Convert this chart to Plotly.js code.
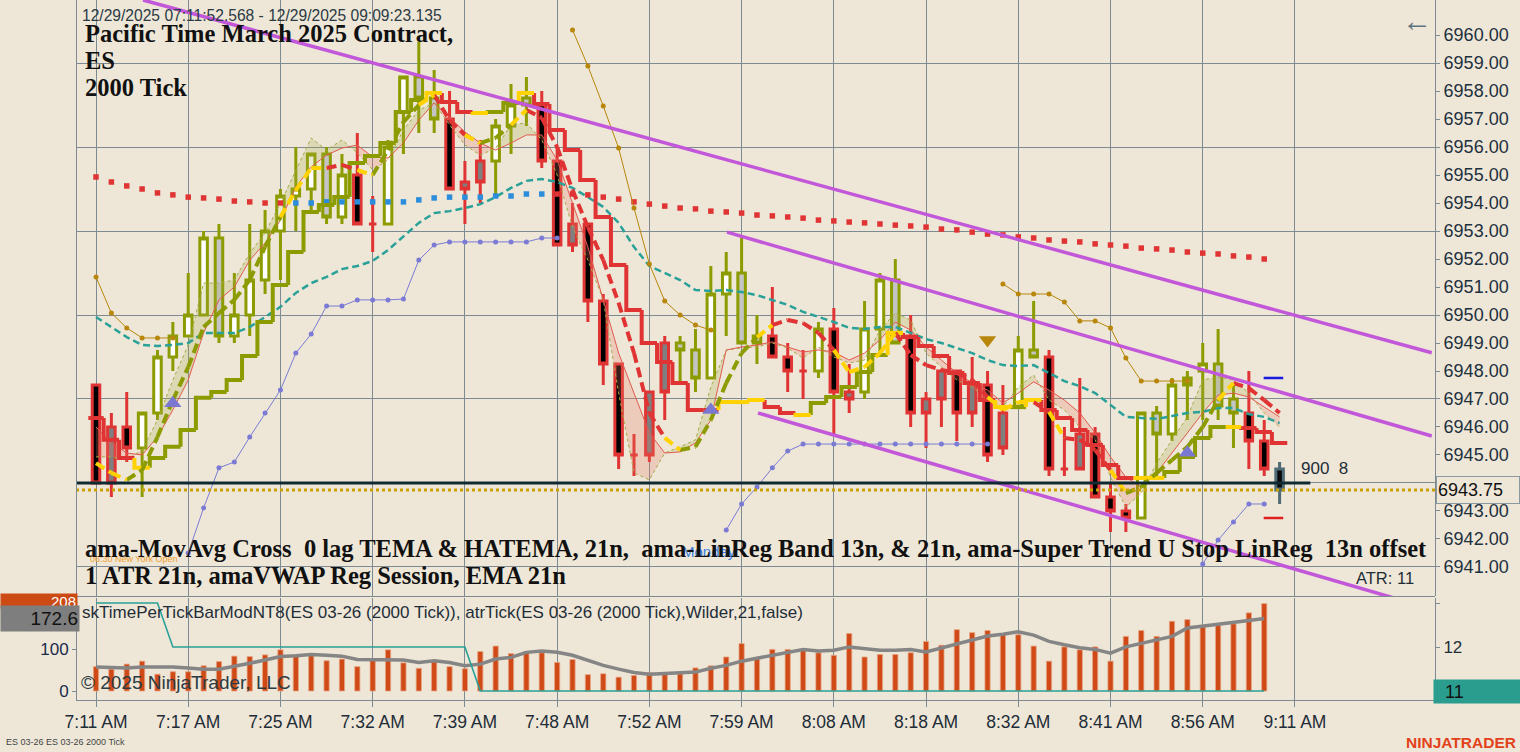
<!DOCTYPE html>
<html><head><meta charset="utf-8">
<script src="https://cdn.plot.ly/plotly-3.0.1.min.js"></script>
<style>html,body{margin:0;padding:0;background:#EEE7D7;}#chart{width:1520px;height:752px;}</style>
</head><body><div id="chart"></div>
<script>
// ---------------- DATA ----------------
const tickIdx = [0,6,12,18,24,30,36,42,48,54,60,66,72,78];
const tickLbl = ['7:11 AM','7:17 AM','7:25 AM','7:32 AM','7:39 AM','7:48 AM','7:52 AM','7:59 AM','8:08 AM','8:18 AM','8:32 AM','8:41 AM','8:56 AM','9:11 AM'];
const priceTicks = [6941,6942,6943,6944,6945,6946,6947,6948,6949,6950,6951,6952,6953,6954,6955,6956,6957,6958,6959,6960];

const openP = [6947.5,6946.0,6946.0,6945.25,6946.5,6948.5,6949.25,6950.0,6952.75,6949.25,
 6950.0,6951.25,6953.0,6954.25,6954.5,6955.75,6953.5,6955.0,6953.25,6953.25,
 6957.25,6958.5,6957.75,6957.0,6954.75,6955.5,6955.5,6956.75,6957.75,6957.5,
 6955.5,6953.25,6953.25,6950.5,6948.25,6945.0,6947.25,6949.0,6949.0,6948.75,
 6947.75,6950.75,6951.5,6949.25,6949.25,6948.5,6948.0,6948.0,6949.5,6947.25,
 6947.25,6949.5,6951.25,6949.25,6947.0,6948.0,6948.0,6947.5,6947.5,6946.5,
 6946.75,6948.75,6948.5,6944.5,6945.75,6945.75,6943.5,6943.0,6942.75,6946.5,
 6945.75,6947.75,6948.0,6948.25,6947.0,6946.5,6945.5,6944.5];
const highP = [6947.5,6946.5,6947.25,6946.5,6948.75,6949.75,6951.5,6953.0,6953.25,6951.5,
 6953.25,6953.75,6954.5,6956.0,6955.75,6956.0,6955.75,6956.5,6954.25,6956.25,
 6958.5,6959.75,6958.75,6958.0,6955.5,6956.25,6957.0,6958.25,6958.5,6958.0,
 6956.0,6954.0,6953.25,6950.75,6948.25,6945.75,6947.25,6949.25,6949.25,6949.5,
 6951.75,6952.25,6952.75,6950.0,6951.0,6949.0,6948.75,6949.75,6950.25,6948.25,
 6950.5,6951.5,6952.0,6950.0,6947.25,6948.0,6948.0,6948.5,6948.0,6947.5,
 6949.25,6950.5,6948.75,6946.0,6947.75,6946.0,6944.0,6943.25,6946.5,6946.75,
 6947.75,6948.0,6949.0,6949.5,6947.5,6948.0,6946.25,6944.75];
const lowP = [6944.0,6943.5,6944.75,6943.5,6946.25,6948.0,6949.25,6950.0,6949.0,6949.0,
 6949.25,6950.75,6951.25,6953.0,6953.75,6953.25,6953.25,6953.25,6952.25,6953.25,
 6955.75,6956.5,6956.5,6954.5,6953.25,6954.0,6954.25,6955.75,6956.75,6955.25,
 6952.5,6952.25,6949.75,6947.5,6944.5,6944.25,6944.75,6946.25,6947.5,6947.25,
 6947.75,6949.25,6949.0,6948.25,6948.5,6947.25,6947.0,6947.75,6945.75,6946.5,
 6947.0,6948.5,6949.0,6946.0,6945.25,6946.0,6945.5,6946.0,6944.75,6945.0,
 6946.75,6948.5,6944.25,6944.25,6944.5,6943.5,6942.25,6942.25,6942.75,6944.25,
 6945.5,6946.25,6946.25,6946.25,6945.25,6944.5,6944.25,6943.25];
const closeP = [6944.0,6944.0,6945.25,6946.5,6948.5,6949.25,6950.0,6952.75,6949.25,6950.0,
 6951.25,6953.0,6954.25,6954.5,6955.75,6953.5,6955.0,6953.25,6953.25,6956.0,
 6958.5,6957.75,6957.0,6954.5,6954.5,6954.75,6956.75,6957.5,6957.5,6955.5,
 6952.5,6952.5,6950.5,6948.25,6945.0,6945.0,6945.0,6947.25,6948.75,6947.75,
 6950.75,6951.5,6949.0,6949.0,6948.5,6948.0,6948.0,6949.5,6947.25,6947.0,
 6949.5,6951.25,6949.0,6946.5,6946.5,6947.0,6946.5,6946.5,6945.0,6945.25,
 6948.75,6948.5,6944.5,6944.5,6944.5,6943.5,6943.0,6942.75,6946.5,6945.75,
 6947.5,6947.5,6948.25,6946.75,6946.5,6945.5,6944.5,6943.75];
// candle paint class: OW olive/white, OS olive/silver, RB red/black, RG red/gray, CB current bar
const barClass = ['RB','RG','RB','OW','OW','OW','OW','OW','OS','OW',
 'OW','OW','OW','OW','OW','OS','OW','RB','RB','OW',
 'OW','OS','OS','RB','RG','RG','OW','OW','OS','RB',
 'RB','RG','RB','RB','RB','RB','RG','RG','OS','OS',
 'OW','OW','OS','OS','RB','RB','RB','OW','RB','RG',
 'OW','OW','OS','RB','RG','RG','RB','RG','RB','RG',
 'OW','OS','RB','RB','RG','RB','RB','RB','OW','OS',
 'OW','OS','OW','OS','OS','RB','RB','CB'];

const stopVal = [6946.32,6945.54,6944.89,6944.54,6944.89,6945.29,6945.89,6947.04,6947.25,6947.68,
 6948.54,6949.75,6951.07,6952.25,6953.68,6953.93,6954.21,6955.43,6955.68,6956.14,
 6957.25,6957.68,6957.93,6957.61,6957.25,6957.21,6957.25,6957.57,6957.93,6957.54,
 6956.61,6955.89,6954.82,6953.50,6951.79,6950.18,6949.00,6948.32,6947.57,6946.61,
 6946.61,6946.89,6946.89,6946.96,6946.71,6946.50,6946.43,6946.86,6947.07,6947.43,
 6947.96,6948.57,6949.36,6949.21,6948.89,6948.54,6947.93,6947.57,6946.96,6946.71,
 6946.71,6946.96,6946.61,6946.32,6945.89,6945.36,6944.64,6944.18,6944.18,6944.18,
 6944.39,6944.93,6945.61,6946.00,6946.00,6945.96,6945.82,6945.43];
const stopState = [-1,-1,-1,0,1,1,1,1,1,1,
 1,1,1,1,1,1,1,1,1,1,
 1,1,0,-1,-1,0,1,1,0,-1,
 -1,-1,-1,-1,-1,-1,-1,-1,-1,-1,
 -1,0,0,0,-1,-1,0,1,1,1,
 1,1,0,-1,-1,-1,-1,-1,-1,0,
 1,0,-1,-1,-1,-1,-1,-1,0,0,
 1,1,1,1,0,-1,-1,-1];

const temaVal = [6944.71,6944.36,6944.11,6944.46,6945.64,6946.96,6948.14,6949.57,6950.07,6950.54,
 6951.25,6952.43,6953.50,6954.46,6955.25,6955.25,6955.36,6955.18,6955.00,6955.89,
 6956.89,6957.50,6957.86,6956.96,6956.43,6956.14,6956.32,6956.79,6957.32,6957.04,
 6956.00,6954.46,6953.14,6951.96,6950.43,6948.64,6946.50,6945.61,6945.18,6945.29,
 6946.25,6947.57,6948.64,6949.21,6949.64,6949.82,6949.71,6949.36,6948.75,6947.96,
 6948.14,6948.64,6949.36,6948.57,6948.21,6948.04,6947.93,6947.68,6947.07,6946.61,
 6946.89,6946.89,6946.54,6945.61,6945.54,6945.18,6944.46,6943.64,6943.86,6944.36,
 6944.82,6945.29,6946.00,6946.96,6947.57,6947.39,6946.96,6946.50];
const temaState = [-1,0,0,1,1,1,1,1,1,1,
 1,1,1,0,0,0,-1,-1,0,1,
 1,1,0,-1,-1,0,1,1,0,-1,
 -1,-1,-1,-1,-1,-1,-1,-1,0,1,
 1,1,1,1,0,-1,-1,-1,-1,0,
 0,0,0,-1,-1,-1,-1,-1,-1,0,
 0,0,-1,0,-1,-1,-1,0,1,1,
 1,1,1,1,0,-1,-1,-1];

const emaVal = [6949.93,6949.57,6949.21,6948.93,6948.89,6948.93,6949.00,6949.36,6949.36,6949.36,
 6949.57,6949.93,6950.29,6950.79,6951.14,6951.36,6951.64,6951.75,6951.93,6952.32,
 6952.79,6953.29,6953.64,6953.71,6953.82,6953.96,6954.21,6954.54,6954.79,6954.86,
 6954.75,6954.54,6954.21,6953.86,6953.29,6952.43,6951.75,6951.50,6951.25,6950.89,
 6950.86,6950.89,6950.82,6950.71,6950.54,6950.36,6950.11,6949.93,6949.75,6949.54,
 6949.50,6949.57,6949.57,6949.36,6949.14,6949.00,6948.82,6948.64,6948.39,6948.21,
 6948.18,6948.21,6947.93,6947.64,6947.46,6947.21,6946.79,6946.36,6946.32,6946.29,
 6946.39,6946.50,6946.54,6946.68,6946.68,6946.46,6946.36,6946.14];

const vwapVal = [6954.93,6954.75,6954.61,6954.50,6954.36,6954.29,6954.21,6954.18,6954.14,6954.07,
 6954.04,6954.00,6954.00,6954.00,6954.00,6954.04,6954.04,6954.04,6954.04,6954.04,
 6954.04,6954.11,6954.18,6954.21,6954.21,6954.21,6954.25,6954.25,6954.32,6954.32,
 6954.32,6954.32,6954.29,6954.21,6954.14,6954.04,6953.96,6953.89,6953.82,6953.79,
 6953.71,6953.68,6953.64,6953.57,6953.54,6953.50,6953.46,6953.39,6953.36,6953.32,
 6953.29,6953.25,6953.21,6953.18,6953.14,6953.07,6953.04,6952.96,6952.89,6952.86,
 6952.79,6952.75,6952.68,6952.64,6952.61,6952.54,6952.50,6952.46,6952.39,6952.36,
 6952.32,6952.25,6952.21,6952.18,6952.11,6952.07,6952.00,null];
const vwapSide = [-1,-1,-1,-1,-1,-1,-1,-1,-1,-1,
 -1,-1,-1,1,1,1,1,1,1,1,
 1,1,1,1,1,1,1,1,1,1,
 -1,-1,-1,-1,-1,-1,-1,-1,-1,-1,
 -1,-1,-1,-1,-1,-1,-1,-1,-1,-1,
 -1,-1,-1,-1,-1,-1,-1,-1,-1,-1,
 -1,-1,-1,-1,-1,-1,-1,-1,-1,-1,
 -1,-1,-1,-1,-1,-1,-1,-1];

const bandRed = [6946.00,6945.43,6945.07,6945.00,6945.64,6946.61,6947.68,6949.36,6950.54,6951.00,
 6951.96,6952.57,6953.39,6954.57,6955.29,6955.71,6955.96,6956.07,6955.64,6955.61,
 6956.14,6956.96,6957.57,6957.07,6956.54,6956.14,6955.89,6956.14,6956.43,6956.43,
 6955.54,6954.00,6952.43,6950.54,6948.64,6947.21,6945.79,6945.07,6945.11,6945.43,
 6946.25,6948.75,6948.86,6948.93,6949.04,6948.86,6948.68,6948.75,6948.68,6948.39,
 6948.64,6949.11,6949.75,6949.46,6948.86,6948.39,6947.93,6947.57,6947.32,6946.86,
 6947.21,6947.61,6947.32,6946.96,6946.50,6945.79,6944.93,6944.21,6943.86,6944.36,
 6945.07,6945.79,6946.50,6947.14,6947.21,6947.07,6946.71,6946.36];
const bandOlive = [6944.93,6944.93,6944.82,6945.18,6946.25,6947.68,6948.93,6951.14,6951.14,6951.25,
 6952.21,6952.93,6954.00,6955.18,6956.32,6955.89,6956.25,6955.79,6955.18,6955.54,
 6956.61,6957.32,6957.57,6956.79,6956.07,6955.71,6955.96,6956.79,6956.86,6956.25,
 6955.00,6953.14,6951.96,6950.54,6947.21,6944.36,6944.11,6945.07,6945.29,6945.54,
 6947.43,6948.75,6948.82,6948.86,6949.00,6948.82,6948.46,6948.86,6948.50,6948.29,
 6948.39,6949.46,6950.07,6949.82,6948.64,6948.14,6947.68,6947.43,6946.96,6946.71,
 6947.43,6947.86,6946.96,6946.61,6946.00,6945.54,6944.21,6943.14,6943.64,6944.71,
 6945.54,6946.36,6947.68,6947.79,6947.68,6947.21,6946.50,6946.00];

const lowerBand = [null,null,null,null,null,null,6941.50,6943.11,6944.54,6944.75,
 6945.64,6946.50,6947.32,6948.64,6949.32,6950.32,6950.32,6950.54,6950.54,6950.54,
 6950.57,6951.96,6952.50,6952.61,6952.61,6952.61,6952.61,6952.61,6952.61,6952.75,
 6952.75,null,null,null,null,null,null,null,null,null,
 null,6942.32,6943.25,6943.86,6944.54,6945.14,6945.39,6945.39,6945.39,6945.39,
 6945.39,6945.39,6945.39,6945.39,6945.39,6945.39,6945.39,6945.39,6945.39,null,
 null,null,null,null,null,null,null,null,null,null,
 null,null,6941.11,6941.96,6942.61,6943.25,6943.25,null];
const upperBand = [6951.36,6950.07,6949.54,6949.18,6949.18,6949.18,null,null,null,null,
 null,null,null,null,null,null,null,null,null,null,
 null,null,null,null,null,null,null,null,null,null,
 null,6960.18,6958.89,6957.46,6955.96,6953.82,6951.82,6950.50,6950.00,6949.64,
 6949.46,null,null,null,null,null,null,null,null,null,
 null,null,null,null,null,null,null,null,null,6951.11,
 6950.75,6950.75,6950.75,6950.46,6949.79,6949.79,6949.54,6948.46,6947.64,6947.64,
 6947.64,6947.64,null,null,null,null,null,null];

const triUpIdx = [5,40,71];
const triUpPrice = [6946.85,6946.61,6945.08];
const triDnIdx = [58];
const triDnPrice = [6949.11];
const projIdx = [76.6,76.6];
const projPrice = [6947.75,6942.75];

const chanUpperX = [3.06,86.9], chanUpperY = [6961.25,6948.65];
const chanMidX = [41.05,86.9], chanMidY = [6952.96,6945.68];
const chanLowX = [43.07,86.9], chanLowY = [6946.50,6939.50];
const hLinePrice = 6944.0, hLineX = [-1.3,79.0];
const lastPrice = 6943.75;

const tpt = [58,52,64,71,40,46,46,60,70,83, 82,86,98,86,88,72,76,58,74,98,
 67,54,70,58,53,94,107,89,94,91, 68,75,39,41,33,37,44,44,41,55,
 60,81,113,77,99,99,97,91,85,137, 81,87,87,91,118,109,146,139,144,135,
 134,107,71,105,98,105,71,130,144,130, 166,170,152,156,160,186,208,null];
const tptAvg = [57,56,55,57,58,57,55,52,52,58, 66,74,82,84,87,85,83,75,74,74,
 74,68,72,68,60,64,76,80,92,95, 92,85,73,61,52,44,40,42,42,45,
 54,61,71,78,85,94,99,95,97,105, 102,97,97,99,93,102,113,122,131,135,
 141,133,118,110,103,99,90,105,113,121, 130,150,154,158,163,168,172.6,null];
const atrTick = [13,13,13,13,13,12,12,12,12,12, 12,12,12,12,12,12,12,12,12,12,
 12,12,12,12,12,11,11,11,11,11, 11,11,11,11,11,11,11,11,11,11,
 11,11,11,11,11,11,11,11,11,11, 11,11,11,11,11,11,11,11,11,11,
 11,11,11,11,11,11,11,11,11,11, 11,11,11,11,11,11,11,null];

// ---------------- STYLE ----------------
const SANS = 'Liberation Sans, Arial, sans-serif';
const SERIF = 'Liberation Serif, Times New Roman, serif';
const BG = '#EEE7D7';
const GRID = '#7d8a92';
const OLIVE = '#8c9b00', RED = '#e03434', YEL = '#ffd200';
const N = openP.length;
const xi = openP.map((_, i) => i);

const traces = [];

// LinReg band fill
function bandPoly(up) {
  const xs = [], ys = [];
  for (let i = 1; i < N; i++) {
    const a0 = bandRed[i-1], a1 = bandRed[i], b0 = bandOlive[i-1], b1 = bandOlive[i];
    const isUp = (b0 + b1) >= (a0 + a1);
    if (isUp !== up) continue;
    xs.push(i-1, i, i, i-1, i-1, null); ys.push(a0, a1, b1, b0, a0, null);
  }
  return {x: xs, y: ys};
}
[[true,'rgba(165,170,70,0.25)'],[false,'rgba(232,120,100,0.25)']].forEach(([up,c]) => {
  const p = bandPoly(up);
  traces.push({type:'scatter', mode:'lines', x:p.x, y:p.y, fill:'toself', fillcolor:c, line:{width:0}, hoverinfo:'skip'});
});
traces.push({type:'scatter', mode:'lines', x:xi, y:bandOlive, line:{color:'#a3aa45', width:1, dash:'dot'}, hoverinfo:'skip'});
traces.push({type:'scatter', mode:'lines', x:xi, y:bandRed, line:{color:'#e25a50', width:1}, hoverinfo:'skip'});

// EMA teal dashed
traces.push({type:'scatter', mode:'lines', x:xi, y:emaVal, line:{color:'#2aa198', width:2.5, dash:'7px,4px'}, hoverinfo:'skip'});

// VWAP dots
traces.push({type:'scatter', mode:'markers', x:xi, y:vwapVal,
  marker:{symbol:'square', size:5.5, color:vwapSide.map(s => s > 0 ? '#2b8ddb' : '#e03434')}, hoverinfo:'skip'});

// bands with dots
traces.push({type:'scatter', mode:'lines+markers', x:xi, y:upperBand, connectgaps:false,
  line:{color:'#b8860b', width:1}, marker:{size:5, color:'#b8860b'}, hoverinfo:'skip'});
traces.push({type:'scatter', mode:'lines+markers', x:xi, y:lowerBand, connectgaps:false,
  line:{color:'#7b7bd6', width:1}, marker:{size:5, color:'#7b7bd6'}, hoverinfo:'skip'});

// Super Trend stop (stepped, colored)
function stepSegs(vals, states, want) {
  const xs = [], ys = [];
  for (let i = 0; i < N; i++) {
    if (vals[i] == null || states[i] !== want) continue;
    const prev = (i > 0 && vals[i-1] != null) ? vals[i-1] : vals[i];
    xs.push(i-0.5, i-0.5, i+0.5, null); ys.push(prev, vals[i], vals[i], null);
  }
  return {x: xs, y: ys};
}
[[1,OLIVE],[-1,RED],[0,YEL]].forEach(([s,c]) => {
  const p = stepSegs(stopVal, stopState, s);
  traces.push({type:'scatter', mode:'lines', x:p.x, y:p.y, line:{color:c, width:4}, hoverinfo:'skip'});
});

// candles
const STY = {OW:{l:OLIVE, f:'#ffffff'}, OS:{l:OLIVE, f:'#c4c4c4'}, RB:{l:RED, f:'#000000'},
             RG:{l:RED, f:'#7f7f7f'}, CB:{l:'#4f6b76', f:'#0a0a0a'}};
Object.keys(STY).forEach(k => {
  const ids = xi.filter(i => barClass[i] === k);
  const st = {line:{color:STY[k].l, width:3}, fillcolor:STY[k].f};
  traces.push({type:'candlestick', x:ids, open:ids.map(i=>openP[i]), high:ids.map(i=>highP[i]),
    low:ids.map(i=>lowP[i]), close:ids.map(i=>closeP[i]), increasing:st, decreasing:st,
    whiskerwidth:0, hoverinfo:'skip', showlegend:false});
});

// TEMA dashed (colored)
function lineSegs(vals, states, want) {
  const xs = [], ys = [];
  for (let i = 1; i < N; i++) {
    if (vals[i] == null || vals[i-1] == null || states[i] !== want) continue;
    xs.push(i-1, i, null); ys.push(vals[i-1], vals[i], null);
  }
  return {x: xs, y: ys};
}
[[1,OLIVE],[-1,RED],[0,YEL]].forEach(([s,c]) => {
  const p = lineSegs(temaVal, temaState, s);
  traces.push({type:'scatter', mode:'lines', x:p.x, y:p.y, line:{color:c, width:4, dash:'10px,5px'}, hoverinfo:'skip'});
});

// channel lines
[[chanUpperX,chanUpperY],[chanMidX,chanMidY],[chanLowX,chanLowY]].forEach(([x,y]) => {
  traces.push({type:'scatter', mode:'lines', x:x, y:y, line:{color:'#c258d9', width:3.5}, hoverinfo:'skip'});
});

// horizontal lines
traces.push({type:'scatter', mode:'lines', x:[-1.3, 87.2], y:[lastPrice, lastPrice], line:{color:'#c9a000', width:3, dash:'3px,3px'}, hoverinfo:'skip'});
traces.push({type:'scatter', mode:'lines', x:hLineX, y:[hLinePrice, hLinePrice], line:{color:'#102a32', width:3}, hoverinfo:'skip'});

// signal markers
traces.push({type:'scatter', mode:'markers', x:triUpIdx, y:triUpPrice,
  marker:{symbol:'triangle-up', size:15, color:'#7b78d2'}, hoverinfo:'skip'});
traces.push({type:'scatter', mode:'markers', x:triDnIdx, y:triDnPrice,
  marker:{symbol:'triangle-down', size:15, color:'#b8860b'}, hoverinfo:'skip'});
traces.push({type:'scatter', mode:'markers', x:projIdx, y:projPrice,
  marker:{symbol:'line-ew', size:14, line:{width:2.5, color:['#1a1ae0','#e02020']}}, hoverinfo:'skip'});

// grid helper axis
traces.push({type:'scatter', mode:'markers', x:[0], y:[6950], yaxis:'y4', marker:{opacity:0}, hoverinfo:'skip'});

// lower panel
traces.push({type:'bar', x:xi, y:tpt, yaxis:'y2', width:0.34,
  marker:{color:'#cf4a16', line:{color:'#e8a585', width:0.8}}, hoverinfo:'skip'});
traces.push({type:'scatter', mode:'lines', x:xi, y:tptAvg, yaxis:'y2', line:{color:'#858585', width:3.5}, hoverinfo:'skip'});
traces.push({type:'scatter', mode:'lines', x:xi, y:atrTick, yaxis:'y3', line:{color:'#2aa198', width:1.6}, hoverinfo:'skip'});

// ---------------- LAYOUT ----------------
const PL = 77, PR = 1435, PB = 700;
const px = x => (x - PL) / (PR - PL);
const py = y => (PB - y) / PB;
const A = [];
function txt(t, x, y, size, color, extra) {
  A.push(Object.assign({text:t, xref:'paper', yref:'paper', x:px(x), y:py(y), xanchor:'left', yanchor:'middle',
    showarrow:false, font:{family:SANS, size:size, color:color}}, extra || {}));
}
txt('Monday', 680, 551, 15, '#3d7fe0');
txt('06:30 New York Open', 88, 559, 9, '#f0a030');
txt('12/29/2025 07:11:52.568 - 12/29/2025 09:09:23.135', 80, 15, 15.6, '#2b3a44');
const serif = {font:{family:SERIF, size:24.5, color:'#111111'}};
txt('<b>Pacific Time March 2025 Contract,</b>', 83, 33, 24.5, '#111', serif);
txt('<b>ES</b>', 83, 60, 24.5, '#111', serif);
txt('<b>2000 Tick</b>', 83, 87, 24.5, '#111', serif);
txt('<b>ama-MovAvg Cross \u00a00 lag TEMA &amp; HATEMA, 21n, \u00a0ama-LinReg Band 13n, &amp; 21n, ama-Super Trend U Stop LinReg \u00a013n offset</b>', 83, 548, 24.5, '#111', serif);
txt('<b>1 ATR 21n, amaVWAP Reg Session, EMA 21n</b>', 83, 575, 24.5, '#111', serif);
txt('ATR: 11', 1354, 578, 16.5, '#1e2d38');
txt('900 \u00a08', 1299, 469, 17, '#1e2d38');
txt('\u2190', 1400, 20, 30, '#5f7380');
txt('skTimePerTickBarModNT8(ES 03-26 (2000 Tick)), atrTick(ES 03-26 (2000 Tick),Wilder,21,false)', 80, 612, 17, '#1e2d38');
txt('\u00a9 2025 NinjaTrader, LLC', 79, 682, 19, '#2d3a42');
txt('208', 0, 601, 15, '#ffffff', {width:74, height:12, bgcolor:'#cc4a14', align:'right'});
txt('172.6', 0, 618, 19, '#111111', {width:76, height:23, bgcolor:'#7e7e7e', align:'right'});
A.push({text:lastPrice.toFixed(2), xref:'paper', yref:'y', x:px(1436), y:lastPrice, xanchor:'left', yanchor:'middle',
  showarrow:false, width:80, height:24, align:'left', bgcolor:BG, bordercolor:'#8a98a0', borderwidth:1,
  font:{family:SANS, size:18, color:'#111'}});
txt('\u00a0\u00a011', 1433, 691, 18, '#111111', {width:84, height:21, bgcolor:'#2a9d8f', align:'left'});
txt('ES 03-26 ES 03-26 2000 Tick', 4, 742, 9, '#444444');
txt('<b>NINJATRADER</b>', 1404, 742, 15.5, '#e2421b');

const layout = {
  width:1520, height:752,
  margin:{l:PL, r:1520-PR, t:0, b:752-PB, pad:0},
  paper_bgcolor:BG, plot_bgcolor:BG, showlegend:false,
  font:{family:SANS, size:17, color:'#1e2d38'},
  xaxis:{domain:[0,1], anchor:'y2', range:[-1.236, 87.11], tickmode:'array', tickvals:tickIdx, ticktext:tickLbl,
    showgrid:true, gridcolor:GRID, gridwidth:1, ticks:'outside', ticklen:6, tickcolor:GRID,
    showline:true, linecolor:GRID, zeroline:false, tickfont:{size:17.5, color:'#1e2d38'}, rangeslider:{visible:false}},
  yaxis:{domain:[104/700, 1], anchor:'x', side:'right', range:[6939.964, 6961.25], tickmode:'array',
    tickvals:priceTicks, tickformat:'.2f', ticks:'outside', ticklen:4, tickcolor:GRID, showgrid:false,
    showline:true, mirror:true, linecolor:GRID, zeroline:false, tickfont:{size:18, color:'#1d3040'}},
  yaxis4:{overlaying:'y', side:'right', range:[6939.964, 6961.25], tickmode:'linear', tick0:6941, dtick:3,
    showgrid:true, gridcolor:GRID, gridwidth:1, showticklabels:false, ticks:'', showline:false, zeroline:false},
  yaxis2:{domain:[0, 102/700], anchor:'x', side:'left', range:[-21.4, 221.4], tickmode:'array', tickvals:[0,100],
    ticks:'outside', ticklen:4, tickcolor:GRID, showgrid:false, showline:true, linecolor:GRID, zeroline:false,
    tickfont:{size:17, color:'#1a2b4c'}},
  yaxis3:{overlaying:'y2', side:'right', range:[10.795, 13.114], tickmode:'array', tickvals:[11,12,13], ticktext:['','12',''],
    ticks:'outside', ticklen:4, tickcolor:GRID, showgrid:false, showline:true, linecolor:GRID, zeroline:false,
    tickfont:{size:17, color:'#1e2d38'}},
  shapes:[{type:'line', xref:'paper', yref:'paper', x0:0, x1:1, y0:py(596.5), y1:py(596.5), line:{color:GRID, width:1}}],
  annotations:A
};
Plotly.newPlot('chart', traces, layout, {staticPlot:true, displayModeBar:false});
</script></body></html>
